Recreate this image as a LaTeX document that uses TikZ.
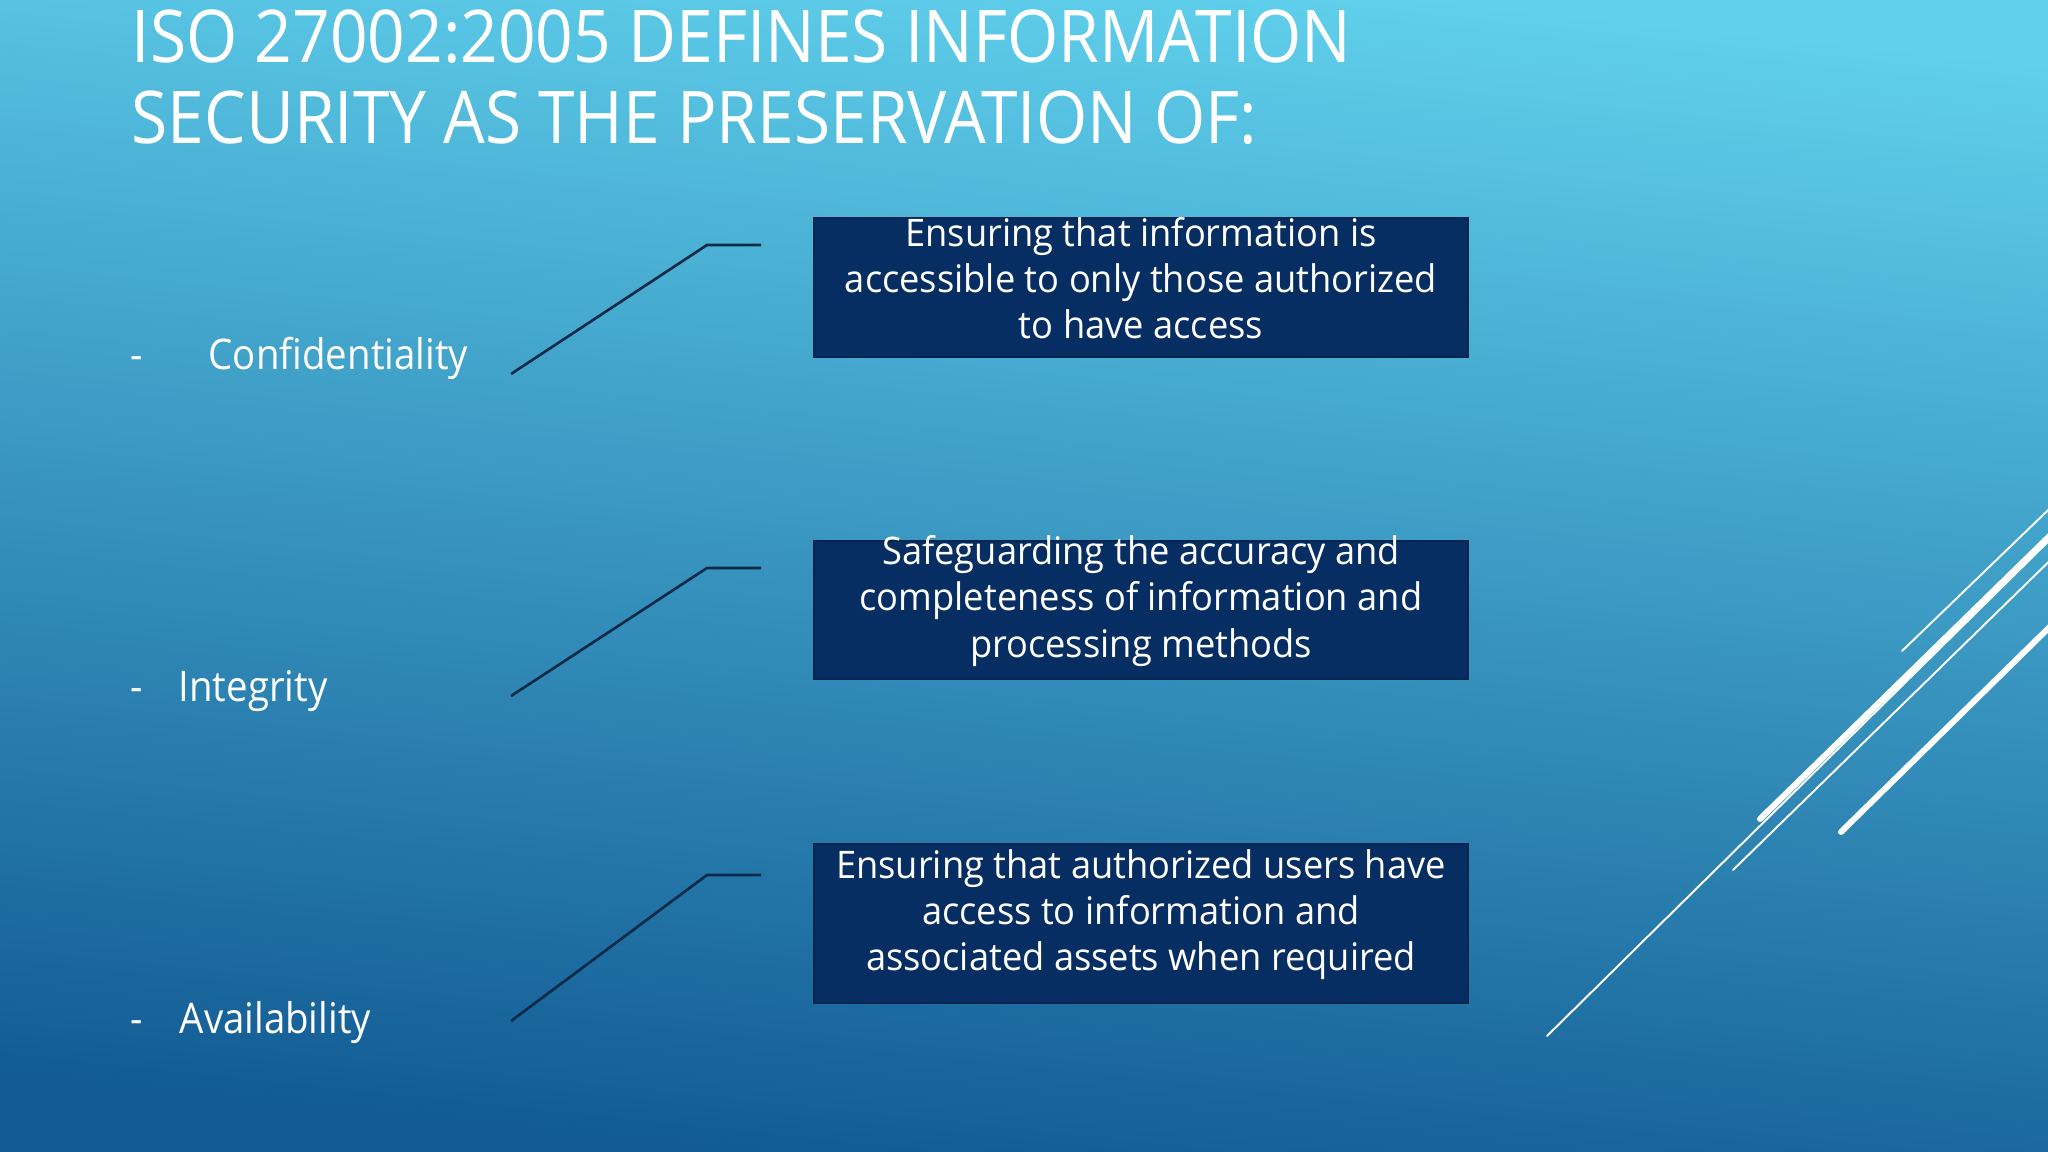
\documentclass[tikz,border=0pt]{standalone}
\usepackage{fontspec}
\setmainfont{Open Sans}
\newfontfamily\titlefont[FakeStretch=0.905]{Open Sans}
\newfontfamily\labelfont[FakeStretch=0.91]{Open Sans}
\newfontfamily\boxfont[FakeStretch=0.955]{Open Sans}
\definecolor{boxc}{HTML}{072E62}
\definecolor{linec}{HTML}{0B2A48}
\definecolor{bgtop}{HTML}{60D0EC}
\definecolor{bgbot}{HTML}{115A93}
\begin{document}
\begin{tikzpicture}[x=0.01cm,y=-0.01cm,
  titletext/.style={text=white,inner sep=0pt,anchor=base west,font=\titlefont\fontsize{20.7}{23}\selectfont},
  labeltext/.style={text=white,inner sep=0pt,anchor=base west,font=\labelfont\fontsize{12}{14}\selectfont},
  defbox/.style={fill=boxc,draw=boxc!80!black,line width=0.5pt,minimum width=6.54cm,inner sep=0pt},
  deftext/.style={text=white,align=center,inner sep=0pt,font=\boxfont\fontsize{10.8}{13.1}\selectfont},
  connector/.style={draw=linec,line width=0.75pt},
  deco/.style={draw=white,line cap=round}
]
\useasboundingbox (0,0) rectangle (2048,1152);
\shade[top color=bgtop,bottom color=bgbot,shading angle=-6] (0,0) rectangle (2048,1152);

% decorative lines
\begin{scope}
\clip (0,0) rectangle (2048,1152);
\draw[deco,line width=0.55pt] (1902,651) -- (2070,489);
\draw[deco,line width=1.7pt] (1760,819) -- (2070,516);
\draw[deco,line width=0.55pt] (1547,1036) -- (2070,520);
\draw[deco,line width=0.55pt] (1733,870) -- (2070,541);
\draw[deco,line width=1.7pt] (1841,832) -- (2070,607);
\end{scope}

% title
\node[titletext] (t1) at (131,63) {ISO 27002:2005 DEFINES INFORMATION};
\node[titletext] (t2) at (131,144) {SECURITY AS THE PRESERVATION OF:};

% labels
\node[labeltext] (d1) at (130,370) {-};
\node[labeltext] (l1) at (208,370) {Confidentiality};
\node[labeltext] (d2) at (130,701) {-};
\node[labeltext] (l2) at (178,701) {Integrity};
\node[labeltext] (d3) at (130,1033) {-};
\node[labeltext] (l3) at (179,1033) {Availability};

% boxes
\node[defbox,minimum height=1.39cm] (b1) at (1141,287.5) {};
\node[defbox,minimum height=1.38cm] (b2) at (1141,610) {};
\node[defbox,minimum height=1.59cm] (b3) at (1141,923.5) {};

\node[deftext] (x1) at (1141,278) {Ensuring that information is\\accessible to only those authorized\\to have access};
\node[deftext] (x2) at (1141,601) {Safeguarding the accuracy and\\completeness of information and\\processing methods};
\node[deftext] (x3) at (1141,915) {Ensuring that authorized users have\\access to information and\\associated assets when required};

% connectors
\coordinate (s1) at (511,374); \coordinate (k1) at (707,245); \coordinate (e1) at (761,245);
\coordinate (s2) at (511,696); \coordinate (k2) at (707,568); \coordinate (e2) at (761,568);
\coordinate (s3) at (511,1021); \coordinate (k3) at (707,875); \coordinate (e3) at (761,875);
\draw[connector] (s1) -- (k1) -- (e1);
\draw[connector] (s2) -- (k2) -- (e2);
\draw[connector] (s3) -- (k3) -- (e3);
\end{tikzpicture}
\end{document}
